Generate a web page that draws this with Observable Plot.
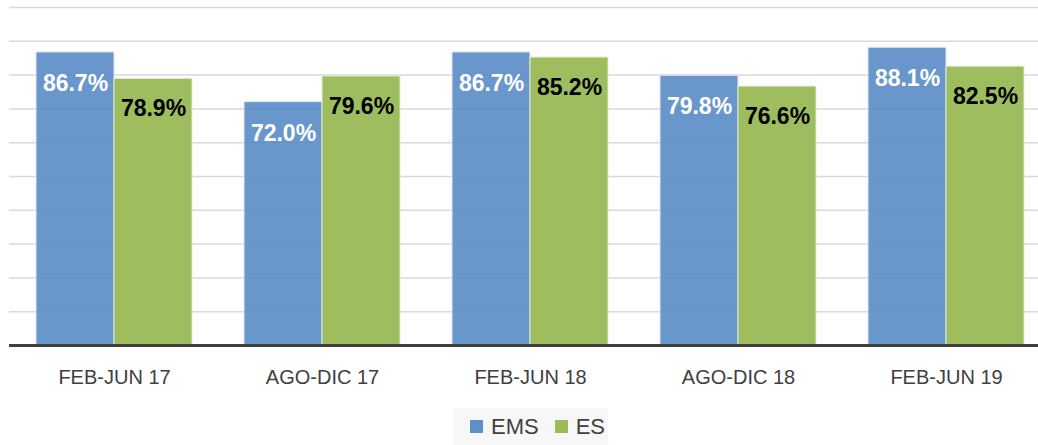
<!DOCTYPE html>
<html>
<head>
<meta charset="utf-8">
<script src="https://cdn.jsdelivr.net/npm/d3@7"></script>
<script src="https://cdn.jsdelivr.net/npm/@observablehq/plot@0.6"></script>
<style>
  html, body { margin: 0; padding: 0; background: #fff; overflow: hidden; width: 1038px; height: 445px; }
  #wrap { position: relative; width: 1038px; height: 445px; font-family: "Liberation Sans", Arial, sans-serif; }
  #legend { position: absolute; left: 453px; top: 408px; width: 155px; height: 37px; background: #f7f7f7;
            display: flex; align-items: center; font-size: 22px; color: #404040; }
  .sw { display: inline-block; width: 13px; height: 13px; margin-right: 8px; }
  .item { display: flex; align-items: center; }
</style>
</head>
<body>
<div id="wrap"><div id="chart"></div><div id="legend"></div></div>
<script>
const categories = ["FEB-JUN 17", "AGO-DIC 17", "FEB-JUN 18", "AGO-DIC 18", "FEB-JUN 19"];
const series = ["EMS", "ES"];
const emsValues = [86.7, 72.0, 86.7, 79.8, 88.1];
const esValues = [78.9, 79.6, 85.2, 76.6, 82.5];
const gridTicks = [10, 20, 30, 40, 50, 60, 70, 80, 90, 100];
const colors = {EMS: "#5f8fc7", ES: "#9bbb59"};

const ems = categories.map((c, i) => ({cat: c, value: emsValues[i]}));
const es = categories.map((c, i) => ({cat: c, value: esValues[i]}));
const fmt = d => d.value.toFixed(1) + "%";

const half = 78;
const chart = Plot.plot({
  width: 1038,
  height: 400,
  marginLeft: 9,
  marginRight: 0,
  marginTop: 7,
  marginBottom: 55,
  style: {fontFamily: "'Liberation Sans', Arial, sans-serif", background: "transparent"},
  x: {type: "band", domain: categories, range: [9, 1050], paddingInner: 0.25, paddingOuter: 0.125, axis: null},
  y: {domain: [0, 100], axis: null},
  marks: [
    Plot.ruleY(gridTicks, {stroke: "#d9d9d9", strokeWidth: 1.5}),
    Plot.barY(ems, {x: "cat", y: "value", fill: colors.EMS, fillOpacity: 0.93, insetRight: half, stroke: "#dfe8f3", strokeWidth: 1}),
    Plot.barY(es, {x: "cat", y: "value", fill: colors.ES, fillOpacity: 0.97, insetLeft: half, stroke: "#e3edd2", strokeWidth: 1}),
    Plot.text(ems, {x: "cat", y: "value", text: fmt, dx: -half / 2, dy: 31, fill: "white", fontWeight: "bold", fontSize: 23}),
    Plot.text(es, {x: "cat", y: "value", text: fmt, dx: half / 2, dy: 30, fill: "black", fontWeight: "bold", fontSize: 23}),
    Plot.ruleY([0], {stroke: "#404040", strokeWidth: 3}),
    Plot.text(categories, {x: d => d, frameAnchor: "bottom", dy: 32, fill: "#404040", fontSize: 20, lineAnchor: "middle"})
  ]
});
document.getElementById("chart").appendChild(chart);

const legend = document.getElementById("legend");
series.forEach((s, i) => {
  const item = document.createElement("span");
  item.className = "item";
  item.style.marginLeft = i === 0 ? "17px" : "16px";
  const sw = document.createElement("span");
  sw.className = "sw";
  sw.style.background = colors[s];
  item.appendChild(sw);
  item.appendChild(document.createTextNode(s));
  legend.appendChild(item);
});
</script>
</body>
</html>
